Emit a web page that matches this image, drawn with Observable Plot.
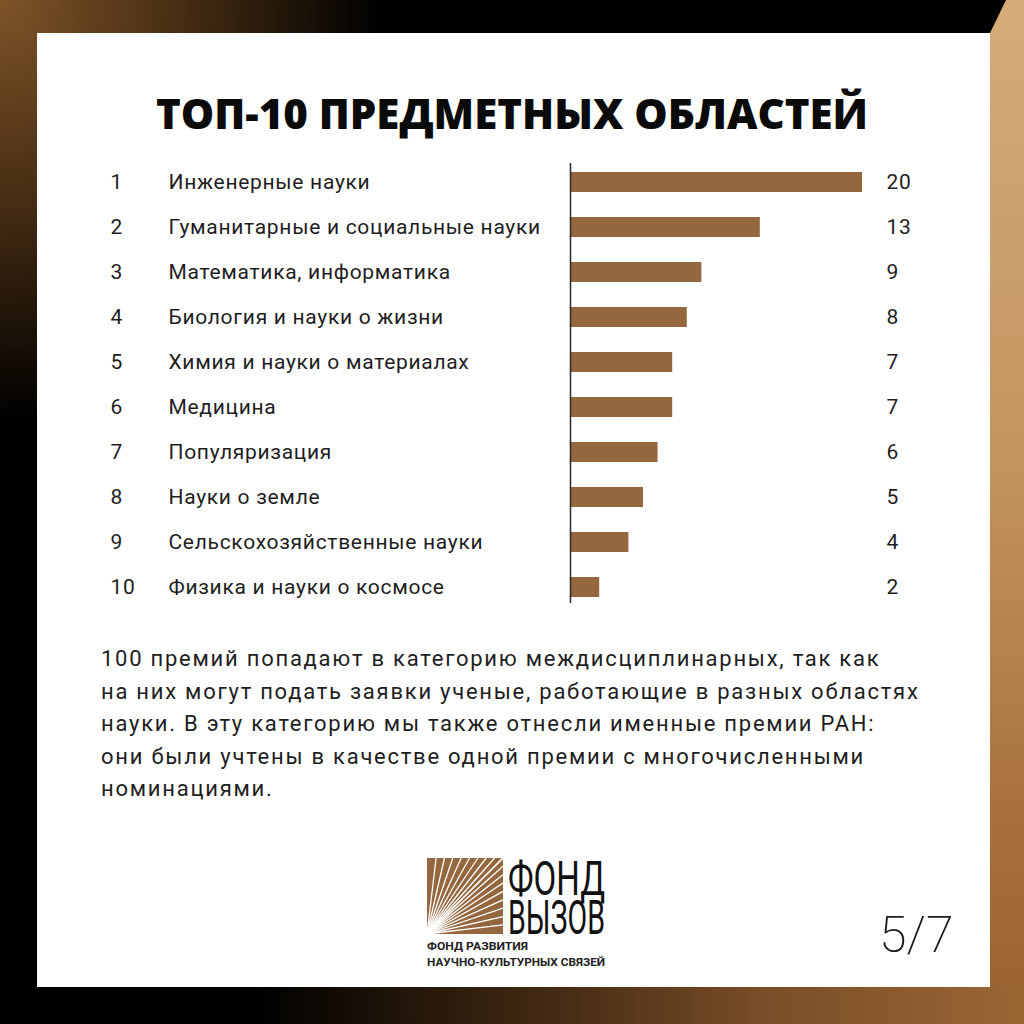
<!DOCTYPE html>
<html>
<head>
<meta charset="utf-8">
<script src="https://cdn.jsdelivr.net/npm/d3@7"></script>
<script src="https://cdn.jsdelivr.net/npm/@observablehq/plot@0.6"></script>
<style>
  html, body { margin: 0; padding: 0; }
  body { width: 1024px; height: 1024px; position: relative; overflow: hidden; background: #000; font-family: Roboto, "Open Sans", sans-serif; color: #1e1e1e; }
  .glow { position: absolute; left: 0; top: 0; width: 1024px; height: 1024px;
    background: radial-gradient(ellipse 380px 420px at 0 0, #7e5428 0%, #4a2f14 45%, rgba(0,0,0,0) 100%); }
  .right { position: absolute; left: 0; top: 0; width: 1024px; height: 1024px;
    background: linear-gradient(to bottom, #d4ac7a 0%, #c39460 45%, #a8703c 80%, #9a6232 100%);
    clip-path: polygon(1006px 0, 1024px 0, 1024px 1024px, 960px 1024px, 960px 40px, 990px 33px); }
  .bottom { position: absolute; left: 0; top: 985px; width: 1024px; height: 39px;
    background: linear-gradient(to right, #000 0%, #000 25%, #3a2410 50%, #7a4e28 75%, #9a6634 100%); }
  .panel { position: absolute; left: 37px; top: 33px; width: 953px; height: 954px; background: #fff; }
  h1 { position: absolute; left: 0; width: 1024px; top: 84px; margin: 0; text-align: center;
    font-family: "Open Sans", sans-serif; font-weight: 800; font-size: 42px; letter-spacing: 0px; color: #0a0a0a; }
  #chart { position: absolute; left: 0; top: 150px; }
  .note { position: absolute; left: 101px; top: 643px; font-size: 22px; line-height: 32.5px; color: #1e1e1e; letter-spacing: 1.75px; white-space: nowrap; }
  .page { position: absolute; left: 879px; top: 906px; font-family: Roboto, sans-serif; font-weight: 200; font-size: 50px; color: #1a1a1a; }
  #logo { position: absolute; left: 420px; top: 845px; }
</style>
</head>
<body>
<div class="glow"></div>
<div class="right"></div>
<div class="bottom"></div>
<div class="panel"></div>
<h1>ТОП-10 ПРЕДМЕТНЫХ ОБЛАСТЕЙ</h1>
<div id="chart"></div>
<div class="note">100 премий попадают в категорию междисциплинарных, так как<br>на них могут подать заявки ученые, работающие в разных областях<br>науки. В эту категорию мы также отнесли именные премии РАН:<br>они были учтены в качестве одной премии с многочисленными<br>номинациями.</div>
<svg id="logo" width="210" height="130" viewBox="0 0 210 130"></svg>
<div class="page">5/7</div>
<script>
const ranks = ["1","2","3","4","5","6","7","8","9","10"];
const categories = [
  "Инженерные науки",
  "Гуманитарные и социальные науки",
  "Математика, информатика",
  "Биология и науки о жизни",
  "Химия и науки о материалах",
  "Медицина",
  "Популяризация",
  "Науки о земле",
  "Сельскохозяйственные науки",
  "Физика и науки о космосе"
];
const counts = [20, 13, 9, 8, 7, 7, 6, 5, 4, 2];

const data = categories.map((c, i) => ({rank: ranks[i], category: c, count: counts[i]}));

const chart = Plot.plot({
  width: 1024,
  height: 470,
  marginLeft: 570,
  marginRight: 162,
  marginTop: 7,
  marginBottom: 8,
  style: {fontFamily: "Roboto, 'Open Sans', sans-serif", background: "transparent", color: "#1e1e1e", letterSpacing: "0.7px"},
  x: {domain: [0, 20], axis: null},
  y: {domain: categories, axis: null, paddingInner: 0.56, paddingOuter: 0.28},
  marks: [
    Plot.barX(data, {y: "category", x: "count", fill: "#94673f"}),
    Plot.ruleX([0], {stroke: "#2a2a2a", strokeWidth: 1.5, insetTop: 6, insetBottom: 9}),
    Plot.text(data, {y: "category", x: () => 0, text: "rank", dx: -460, textAnchor: "start", fontSize: 21, fill: "#1e1e1e"}),
    Plot.text(data, {y: "category", x: () => 0, text: "category", dx: -402, textAnchor: "start", fontSize: 21, fill: "#1e1e1e"}),
    Plot.text(data, {y: "category", x: () => 0, text: d => String(d.count), dx: 316, textAnchor: "start", fontSize: 21, fill: "#1e1e1e"})
  ]
});
document.getElementById("chart").appendChild(chart);

// logo (decorative)
const logo = d3.select("#logo");
const ox = 7, oy = 13, s = 76;
logo.append("rect").attr("x", ox).attr("y", oy).attr("width", s).attr("height", s).attr("fill", "#94673f");
const g = logo.append("g").attr("stroke", "#fff").attr("stroke-width", 1.3);
for (let t = 0.12; t <= 1.0; t += 0.11) {
  g.append("line").attr("x1", ox).attr("y1", oy + s).attr("x2", ox + s * t).attr("y2", oy);
}
for (let t = 0.0; t <= 0.9; t += 0.11) {
  g.append("line").attr("x1", ox).attr("y1", oy + s).attr("x2", ox + s).attr("y2", oy + s * t);
}
// two-line wordmark as one text element
const wm = logo.append("text").attr("font-family", "Roboto, sans-serif").attr("font-size", 40).attr("fill", "#111");
const l1 = wm.append("tspan").attr("x", 0).attr("y", 0).text("ФОНД");
const l2 = wm.append("tspan").attr("x", 0).attr("y", 32.5).text("ВЫЗОВ");
const w1 = l1.node().getComputedTextLength() || 97;
const w2 = l2.node().getComputedTextLength() || 97;
const sx = 97 / w2;
l1.attr("textLength", 97 / sx).attr("lengthAdjust", "spacingAndGlyphs");
wm.attr("transform", `translate(88,50) scale(${sx},1.2)`);
logo.append("text").attr("x", 7).attr("y", 105).attr("font-family", "Roboto, sans-serif").attr("font-weight", 700).attr("font-size", 10)
  .attr("textLength", 101).attr("lengthAdjust", "spacingAndGlyphs").attr("fill", "#222").text("ФОНД РАЗВИТИЯ");
logo.append("text").attr("x", 7).attr("y", 121).attr("font-family", "Roboto, sans-serif").attr("font-weight", 700).attr("font-size", 10)
  .attr("textLength", 178).attr("lengthAdjust", "spacingAndGlyphs").attr("fill", "#222").text("НАУЧНО-КУЛЬТУРНЫХ СВЯЗЕЙ");
</script>
</body>
</html>
